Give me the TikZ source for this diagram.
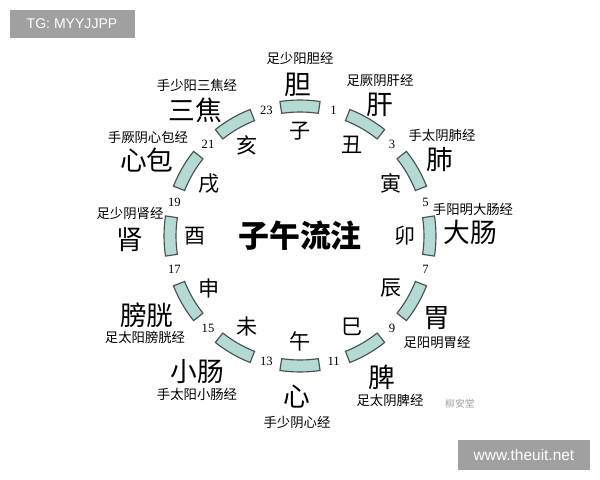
\documentclass[tikz,border=0pt]{standalone}
\usepackage{fontspec}
\usetikzlibrary{calc}
\setmainfont{Liberation Serif}
\newfontfamily\cjk{Noto Sans CJK SC}
\newfontfamily\wmfont{Liberation Sans}
\definecolor{segfill}{RGB}{180,218,212}
\definecolor{segline}{RGB}{70,80,80}
\definecolor{wmgray}{RGB}{160,160,160}

\tikzset{
  organ/.style={font=\cjk\fontsize{19}{19}\selectfont},
  meridian/.style={font=\cjk\fontsize{9.5}{9.5}\selectfont},
  branch/.style={font=\cjk\fontsize{15}{15}\selectfont},
  hour/.style={font=\fontsize{9}{9}\selectfont},
  watermark/.style={fill=wmgray, text=white, font=\wmfont\fontsize{10}{10}\selectfont}
}

\begin{document}
\begin{tikzpicture}[x=0.025cm, y=0.025cm]
	\useasboundingbox[fill=white] (0,0) rectangle (600,-480);
	\coordinate (c) at (300,-236);

	% segments of the clock
	\foreach \a in {90,60,...,-240}
		\draw[segline, fill=segfill, line width=0.8pt, shift={(c)}]
			(\a-8.5:124) arc (\a-8.5:\a+8.5:124) -- (\a+8.5:136) arc (\a+8.5:\a-8.5:136) -- cycle;

	% hours
	\foreach \h [count=\i from 0] in {1,3,5,7,9,11,13,15,17,19,21,23}
		\node[hour] (h\h) at ($(c)+(75-30*\i:130)$) {\h};

	% earthly branches
	\foreach \b [count=\i from 0] in {子,丑,寅,卯,辰,巳,午,未,申,酉,戌,亥}
		\node[branch] (b\i) at ($(c)+(90-30*\i:105)$) {\b};

	\node[font=\cjk\bfseries\fontsize{22}{22}\selectfont] (title) at (c) {子午流注};

	% organs
	\node[organ] (dan) at (298,-85) {胆};
	\node[organ] (gan) at (380,-105) {肝};
	\node[organ] (fei) at (440,-160) {肺};
	\node[organ] (dachang) at (470,-232) {大肠};
	\node[organ] (wei) at (437,-318) {胃};
	\node[organ] (pi) at (382,-377) {脾};
	\node[organ] (xin) at (297,-397) {心};
	\node[organ] (xiaochang) at (197,-372) {小肠};
	\node[organ] (pangguang) at (147,-315) {膀胱};
	\node[organ] (shen) at (130,-240) {肾};
	\node[organ] (xinbao) at (147,-160) {心包};
	\node[organ] (sanjiao) at (195,-110) {三焦};

	% meridians
	\node[meridian] (mdan) at (300,-58) {足少阳胆经};
	\node[meridian] (mgan) at (380,-80) {足厥阴肝经};
	\node[meridian] (mfei) at (442,-135) {手太阴肺经};
	\node[meridian] (mdachang) at (473,-209) {手阳明大肠经};
	\node[meridian] (mwei) at (437,-342) {足阳明胃经};
	\node[meridian] (mpi) at (390,-400) {足太阴脾经};
	\node[meridian] (mxin) at (297,-422) {手少阴心经};
	\node[meridian] (mxiaochang) at (197,-394) {手太阳小肠经};
	\node[meridian] (mpangguang) at (145,-337) {足太阳膀胱经};
	\node[meridian] (mshen) at (130,-213) {足少阴肾经};
	\node[meridian] (mxinbao) at (148,-137) {手厥阴心包经};
	\node[meridian] (msanjiao) at (197,-85) {手少阳三焦经};

	% watermarks
	\node[watermark, minimum width=125*0.025cm, minimum height=28*0.025cm] (tg) at (72,-24) {TG: MYYJJPP};
	\node[wmgray, font=\cjk\fontsize{7}{7}\selectfont] (logo) at (460,-404) {柳安堂};
	\node[watermark, minimum width=132*0.025cm, minimum height=30*0.025cm, font=\wmfont\fontsize{11}{11}\selectfont] (site) at (524,-455) {www.theuit.net};
\end{tikzpicture}
\end{document}
